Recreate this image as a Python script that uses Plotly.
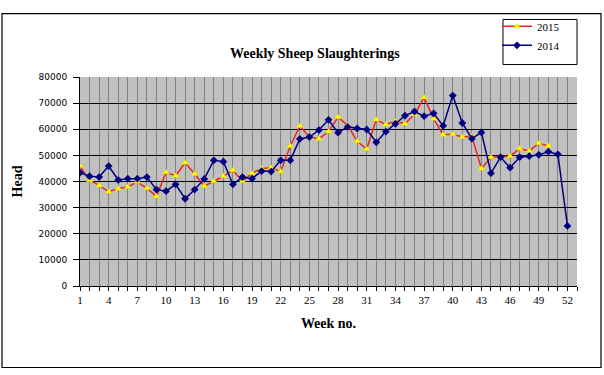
import plotly.graph_objects as go

weeks_2015 = list(range(1, 51))
head_2015 = [45900, 40500, 38500, 36100, 37300, 37900, 39900, 37400, 34300, 43500,
             42200, 47200, 42900, 38300, 40100, 42000, 44300, 40100, 43200, 45000,
             45300, 43800, 53600, 61200, 57000, 56300, 59100, 64600, 61500, 55400,
             52400, 63700, 61800, 63100, 62100, 65600, 72200, 64000, 57900, 58100,
             57000, 57300, 45000, 49300, 49500, 49700, 52600, 51700, 54600, 53600]

weeks_2014 = list(range(1, 53))
head_2014 = [43400, 42000, 41700, 45900, 40600, 41100, 41100, 41700, 36900, 36300,
             38900, 33400, 36900, 41000, 48100, 47600, 38900, 41700, 41100, 44000,
             43800, 48100, 48100, 56300, 57000, 59700, 63600, 58700, 60900, 60300,
             59900, 55000, 59100, 62100, 65200, 66800, 65000, 66100, 61300, 72900,
             62400, 56400, 58800, 43200, 49300, 45300, 49300, 49700, 50200, 51400,
             50400, 23000]

x_tick_vals = list(range(1, 53, 3))
x_tick_text = [str(v) for v in x_tick_vals]
y_tick_vals = list(range(0, 80001, 10000))
y_tick_text = [str(v) for v in y_tick_vals]

W, H = 604, 375
L, R, T, B = 80, 577, 68, 286

def px(x):
    return (x - L) / (R - L)

def py(y):
    return (B - y) / (B - T)

fig = go.Figure()
fig.add_trace(go.Scatter(
    x=weeks_2015, y=head_2015, name="2015", mode="lines+markers",
    line=dict(color="#E8281E", width=1.5),
    marker=dict(symbol="triangle-up", size=6, color="#FFFF00",
                line=dict(color="#E0D000", width=0.5)),
))
fig.add_trace(go.Scatter(
    x=weeks_2014, y=head_2014, name="2014", mode="lines+markers",
    line=dict(color="#000080", width=1.5),
    marker=dict(symbol="diamond", size=6, color="#000080"),
))

serif = "Liberation Serif, Times New Roman, serif"

fig.update_layout(
    width=W, height=H,
    margin=dict(l=L, r=W - R, t=T, b=H - B, pad=0),
    paper_bgcolor="white",
    plot_bgcolor="#C0C0C0",
    showlegend=True,
    legend=dict(
        x=px(497), y=py(0), xanchor="left", yanchor="top",
        bgcolor="rgba(0,0,0,0)", borderwidth=0,
        font=dict(family=serif, size=11, color="black"),
        itemwidth=30, tracegroupgap=0,
    ),
    xaxis=dict(
        range=[1, 53], tickmode="array", tickvals=x_tick_vals, ticktext=x_tick_text,
        ticks="outside", ticklen=4, tickcolor="black",
        showline=True, linecolor="black", linewidth=1,
        showgrid=True, gridcolor="#808080", gridwidth=1,
        minor=dict(dtick=1, tick0=1, ticks="outside", ticklen=4, tickcolor="black",
                   showgrid=True, gridcolor="#808080", gridwidth=1),
        tickfont=dict(family=serif, size=11, color="black"),
        zeroline=False,
        title=dict(text="<b>Week no.</b>", font=dict(family=serif, size=14, color="black"),
                   standoff=12),
    ),
    yaxis=dict(
        range=[0, 80000], tickmode="array", tickvals=y_tick_vals, ticktext=y_tick_text,
        ticks="outside", ticklen=6, tickcolor="black", ticklabelstandoff=4,
        showline=True, linecolor="black", linewidth=1,
        showgrid=True, gridcolor="black", gridwidth=1,
        zeroline=False,
        tickfont=dict(family="DejaVu Sans, Verdana, sans-serif", size=9, color="black"),
        title=dict(text="<b>Head</b>", font=dict(family=serif, size=14, color="black"),
                   standoff=12),
    ),
    shapes=[
        dict(type="rect", xref="paper", yref="paper",
             x0=px(2), x1=px(601), y0=py(371), y1=py(2),
             line=dict(color="black", width=1.2), fillcolor="rgba(0,0,0,0)", layer="below"),
        dict(type="rect", xref="paper", yref="paper",
             x0=px(503), x1=px(577), y0=py(55), y1=py(8),
             line=dict(color="black", width=1), fillcolor="rgba(0,0,0,0)"),
    ],
    annotations=[
        dict(text="<b>Weekly Sheep Slaughterings</b>", xref="paper", yref="paper",
             x=px(315), y=py(43), xanchor="center", yanchor="middle", showarrow=False,
             font=dict(family=serif, size=14, color="black")),
    ],
)

fig.write_html(
    "out.html",
    config={"displayModeBar": False},
    post_script="document.body.style.margin='0';document.body.style.overflow='hidden';",
)
